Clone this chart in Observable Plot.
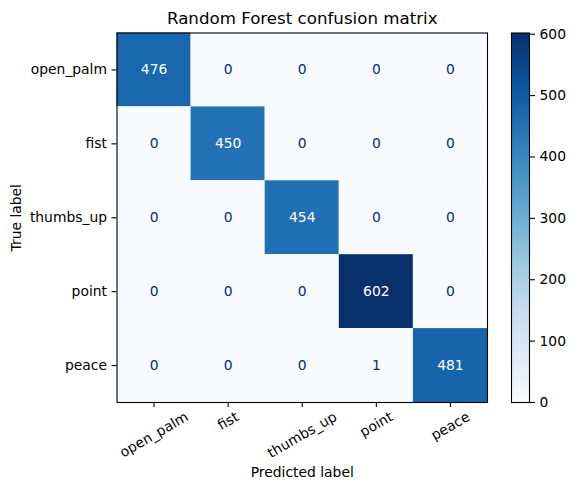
<!DOCTYPE html>
<html>
<head>
<meta charset="utf-8">
<script src="https://cdn.jsdelivr.net/npm/d3@7"></script>
<script src="https://cdn.jsdelivr.net/npm/@observablehq/plot@0.6"></script>
<style>
html,body{margin:0;padding:0;background:#fff;}
#chart{position:relative;width:575px;height:492px;overflow:hidden;}
#chart svg{position:absolute;left:0;top:0;background:transparent;}
</style>
</head>
<body>
<div id="chart"></div>
<script>
const labels = ["open_palm","fist","thumbs_up","point","peace"];
const row0 = [476,0,0,0,0];
const row1 = [0,450,0,0,0];
const row2 = [0,0,454,0,0];
const row3 = [0,0,0,602,0];
const row4 = [0,0,0,1,481];
const matrix = [row0,row1,row2,row3,row4];
const title = "Random Forest confusion matrix";
const xTitle = "Predicted label";
const yTitle = "True label";
const barTicks = [0,100,200,300,400,500,600];
const blues = ["#f7fbff","#deebf7","#c6dbef","#9ecae1","#6baed6","#4292c6","#2171b5","#08519c","#08306b"];
const vMax = 602;

const font = "DejaVu Sans";
const fs = 13.89;
const cells = matrix.flatMap((r,i)=>r.map((v,j)=>({truth:labels[i],pred:labels[j],v})));
const color = {type:"linear",domain:blues.map((_,i)=>i/8*vMax),range:blues,interpolate:"rgb"};

const L=116.5,R=487,T=32.5,B=402;
const ctx=document.createElement("canvas").getContext("2d");
ctx.font=`${fs}px "${font}"`;
const sin=Math.sin(Math.PI/6),cos=Math.cos(Math.PI/6);
const offset=l=>{const w=ctx.measureText(l).width;return 7.5+(w*sin+fs*0.95*cos)/2;};

const main=Plot.plot({
  width:575,height:492,
  marginLeft:L,marginRight:575-R,marginTop:T,marginBottom:492-B,
  style:{fontFamily:font,fontSize:fs+"px",color:"#000",background:"transparent"},
  x:{domain:labels,padding:0,round:false,label:null},
  y:{domain:labels,padding:0,round:false,label:null},
  color,
  marks:[
    Plot.cell(cells,{x:"pred",y:"truth",fill:"v"}),
    Plot.text(cells.filter(d=>d.v>vMax/2),{x:"pred",y:"truth",text:d=>String(d.v),fill:"#fff",fontSize:fs}),
    Plot.text(cells.filter(d=>d.v<=vMax/2),{x:"pred",y:"truth",text:d=>String(d.v),fill:"#08306b",fontSize:fs}),
    Plot.frame({stroke:"#000",strokeWidth:1.1}),
    Plot.axisY({tickSize:5,tickPadding:5,fontSize:fs,label:null,stroke:"#000",strokeWidth:1.1}),
    Plot.axisX({tickSize:5,tickFormat:()=>"",label:null,stroke:"#000",strokeWidth:1.1}),
    ...labels.map(l=>Plot.text([l],{x:d=>d,frameAnchor:"bottom",dy:offset(l),rotate:-30,textAnchor:"middle",lineAnchor:"middle",fontSize:fs,fill:"#000"})),
    Plot.text([title],{frameAnchor:"top",dy:-14,lineAnchor:"middle",fontSize:16.67,fill:"#000"}),
    Plot.text([xTitle],{frameAnchor:"bottom",dy:70,lineAnchor:"middle",fontSize:fs,fill:"#000"}),
    Plot.text([yTitle],{frameAnchor:"left",dx:-100,rotate:-90,textAnchor:"middle",lineAnchor:"middle",fontSize:fs,fill:"#000"})
  ]
});
const bar=Plot.plot({
  width:575,height:492,
  marginLeft:511,marginRight:575-529,marginTop:T,marginBottom:492-B,
  style:{fontFamily:font,fontSize:fs+"px",color:"#000",background:"transparent"},
  x:{domain:[0,1],axis:null},
  y:{domain:[0,vMax],label:null},
  color,
  marks:[
    Plot.raster({x1:0,x2:1,y1:0,y2:vMax,pixelSize:1,interpolate:null,fill:(x,y)=>y}),
    Plot.frame({stroke:"#000",strokeWidth:1.1}),
    Plot.axisY({anchor:"right",ticks:barTicks,tickSize:5,tickPadding:5,fontSize:fs,label:null,stroke:"#000",strokeWidth:1.1})
  ]
});
document.getElementById("chart").append(main,bar);
</script>
</body>
</html>
